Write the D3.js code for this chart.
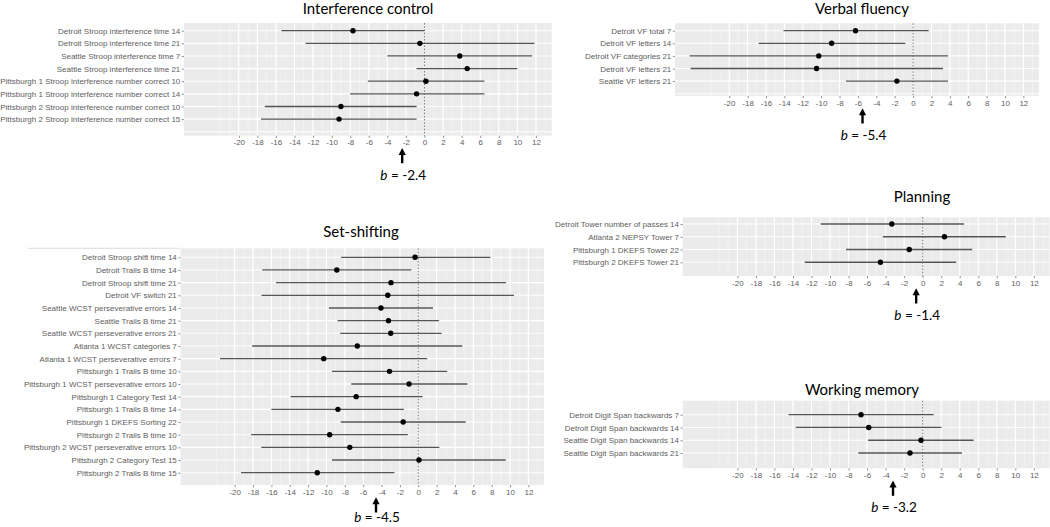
<!DOCTYPE html>
<html><head><meta charset="utf-8">
<script src="https://cdn.jsdelivr.net/npm/d3@7"></script>
<style>
body{margin:0;background:#fff;}
svg{display:block;}
</style></head>
<body><svg id="chart" width="1050" height="527"></svg>
<script>
// ---------- data ----------
const xTicks = [-20,-18,-16,-14,-12,-10,-8,-6,-4,-2,0,2,4,6,8,10,12];
const xTickLabels = ["-20","-18","-16","-14","-12","-10","-8","-6","-4","-2","0","2","4","6","8","10","12"];
const xDomain = [-25.9, 13.7];

const icLabels = ["Detroit Stroop interference time 14","Detroit Stroop interference time 21","Seattle Stroop interference time 7","Seattle Stroop interference time 21","Pittsburgh 1 Stroop interference number correct 10","Pittsburgh 1 Stroop interference number correct 14","Pittsburgh 2 Stroop interference number correct 10","Pittsburgh 2 Stroop interference number correct 15"];
const icEst = [-7.7,-0.5,3.8,4.6,0.15,-0.85,-9.0,-9.2];
const icLo  = [-15.4,-12.8,-4.0,-0.85,-6.1,-8.0,-17.2,-17.6];
const icHi  = [0.0,11.85,11.6,10.0,6.45,6.45,-0.85,-0.85];

const vfLabels = ["Detroit VF total 7","Detroit VF letters 14","Detroit VF categories 21","Detroit VF letters 21","Seattle VF letters 21"];
const vfEst = [-6.26,-8.86,-10.26,-10.5,-1.76];
const vfLo  = [-14.1,-16.8,-24.3,-24.2,-7.3];
const vfHi  = [1.7,-0.84,3.8,3.26,3.8];

const ssLabels = ["Detroit Stroop shift time 14","Detroit Trails B time 14","Detroit Stroop shift time 21","Detroit VF switch 21","Seattle WCST perseverative errors 14","Seattle Trails B time 21","Seattle WCST perseverative errors 21","Atlanta 1 WCST categories 7","Atlanta 1 WCST perseverative errors 7","Pittsburgh 1 Trails B time 10","Pittsburgh 1 WCST perseverative errors 10","Pittsburgh 1 Category Test 14","Pittsburgh 1 Trails B time 14","Pittsburgh 1 DKEFS Sorting 22","Pittsburgh 2 Trails B time 10","Pittsburgh 2 WCST perseverative errors 10","Pittsburgh 2 Category Test 15","Pittsburgh 2 Trails B time 15"];
const ssEst = [-0.35,-8.87,-2.97,-3.32,-4.06,-3.24,-3.0,-6.64,-10.3,-3.13,-1.0,-6.76,-8.75,-1.64,-9.65,-7.46,0.08,-11.0];
const ssLo  = [-8.4,-17.0,-15.5,-17.07,-9.73,-8.79,-8.5,-18.1,-21.6,-9.4,-7.3,-13.9,-16.0,-8.44,-18.2,-17.1,-9.4,-19.3];
const ssHi  = [7.85,-0.74,9.57,10.43,1.6,2.27,2.54,4.8,0.98,3.16,5.35,0.47,-1.56,5.16,-1.13,2.3,9.53,-2.6];

const plLabels = ["Detroit Tower number of passes 14","Atlanta 2 NEPSY Tower 7","Pittsburgh 1 DKEFS Tower 22","Pittsburgh 2 DKEFS Tower 21"];
const plEst = [-3.33,2.35,-1.45,-4.56];
const plLo  = [-11.0,-4.3,-8.28,-12.73];
const plHi  = [4.45,8.97,5.35,3.62];

const wmLabels = ["Detroit Digit Span backwards 7","Detroit Digit Span backwards 14","Seattle Digit Span backwards 14","Seattle Digit Span backwards 21"];
const wmEst = [-6.65,-5.82,-0.18,-1.37];
const wmLo  = [-14.47,-13.7,-5.9,-6.94];
const wmHi  = [1.19,2.03,5.5,4.23];

const titles = ["Interference control","Verbal fluency","Set-shifting","Planning","Working memory"];
const bValues = ["-2.4","-5.4","-4.5","-1.4","-3.2"];
const arrowAt = [-2.4,-5.5,-4.6,-0.7,-3.2];

// ---------- layout ----------
const layouts = [
  {left:184, right:551.7, top:23, first:30.7, step:12.63, bottom:135.7, tx:368, ty:13.5, by:180, extraGrid:true},
  {left:675, right:1039, top:23.3, first:30.7, step:12.6, bottom:96, tx:862, ty:13.5, by:140, extraGrid:true},
  {left:180.5, right:544, top:248.3, first:257.3, step:12.67, bottom:485, tx:361, ty:237, by:522, extraGrid:false},
  {left:682.7, right:1049.6, top:217.3, first:224, step:12.75, bottom:276, tx:922, ty:202, by:320, extraGrid:false},
  {left:682.7, right:1049.6, top:400.7, first:414.7, step:12.77, bottom:468.3, tx:862, ty:395, by:512, extraGrid:false}
];

const series = [
  {labels:icLabels, est:icEst, lo:icLo, hi:icHi},
  {labels:vfLabels, est:vfEst, lo:vfLo, hi:vfHi},
  {labels:ssLabels, est:ssEst, lo:ssLo, hi:ssHi},
  {labels:plLabels, est:plEst, lo:plLo, hi:plHi},
  {labels:wmLabels, est:wmEst, lo:wmLo, hi:wmHi}
];

const svg = d3.select("#chart");
const axisFont = "'Liberation Sans', Arial, sans-serif";
const titleFont = "Lato, 'Open Sans', sans-serif";

// faint leftover rule at top-left of set-shifting panel
svg.append("line").attr("x1",28).attr("x2",180).attr("y1",248.3).attr("y2",248.3)
  .attr("stroke","#e4e4e4").attr("stroke-width",1.2);

series.forEach((s, k) => {
  const L = layouts[k];
  const g = svg.append("g");
  const x = d3.scaleLinear().domain(xDomain).range([L.left, L.right]);
  const n = s.labels.length;
  const y = d3.scalePoint().domain(s.labels).range([L.first, L.first + (n-1)*L.step]);

  g.append("rect").attr("x",L.left).attr("y",L.top)
    .attr("width",L.right-L.left).attr("height",L.bottom-L.top).attr("fill","#ebebeb");

  const minor = d3.range(-22, 14, 1);
  g.selectAll(".minor").data(minor).enter().append("line")
    .attr("x1",d=>x(d)).attr("x2",d=>x(d)).attr("y1",L.top).attr("y2",L.bottom)
    .attr("stroke","#f7f7f7").attr("stroke-width",0.6);
  g.selectAll(".major").data(xTicks).enter().append("line")
    .attr("x1",d=>x(d)).attr("x2",d=>x(d)).attr("y1",L.top).attr("y2",L.bottom)
    .attr("stroke","#ffffff").attr("stroke-width",1.1);
  g.selectAll(".hg").data(s.labels).enter().append("line")
    .attr("x1",L.left).attr("x2",L.right).attr("y1",d=>y(d)).attr("y2",d=>y(d))
    .attr("stroke","#ffffff").attr("stroke-width",1.1);
  if (L.extraGrid) {
    const ye = L.first + n*L.step;
    g.append("line").attr("x1",L.left).attr("x2",L.right).attr("y1",ye).attr("y2",ye)
      .attr("stroke","#ffffff").attr("stroke-width",1.1);
  }

  g.append("line").attr("x1",x(0)).attr("x2",x(0)).attr("y1",L.top).attr("y2",L.bottom)
    .attr("stroke","#6a6a6a").attr("stroke-width",0.9).attr("stroke-dasharray","1.6,1.6");

  g.selectAll(".ci").data(s.labels).enter().append("line")
    .attr("x1",(d,i)=>x(s.lo[i])).attr("x2",(d,i)=>x(s.hi[i]))
    .attr("y1",d=>y(d)).attr("y2",d=>y(d))
    .attr("stroke","#555").attr("stroke-width",1.3);
  g.selectAll(".pt").data(s.labels).enter().append("circle")
    .attr("cx",(d,i)=>x(s.est[i])).attr("cy",d=>y(d)).attr("r",2.7).attr("fill","#000");

  const ya = g.append("g").attr("transform",`translate(${L.left},0)`)
    .call(d3.axisLeft(y).tickSize(2.2).tickPadding(1.5));
  ya.select(".domain").remove();
  ya.selectAll("line").attr("stroke","#777").attr("stroke-width",0.8);
  ya.selectAll("text").attr("font-family",axisFont).attr("font-size",8).attr("fill","#5e5e5e");

  const xa = g.append("g").attr("transform",`translate(0,${L.bottom})`)
    .call(d3.axisBottom(x).tickValues(xTicks).tickFormat((d,i)=>xTickLabels[i]).tickSize(2.2).tickPadding(1.8));
  xa.select(".domain").remove();
  xa.selectAll("line").attr("stroke","#777").attr("stroke-width",0.8);
  xa.selectAll("text").attr("font-family",axisFont).attr("font-size",8).attr("fill","#5e5e5e");

  svg.append("text").attr("x",L.tx).attr("y",L.ty).attr("text-anchor","middle")
    .attr("font-family",titleFont).attr("font-size",15).attr("fill","#000").text(titles[k]);

  const ax = x(arrowAt[k]);
  const aTop = L.bottom + 12.3, aBot = L.bottom + 27.5;
  g.append("line").attr("x1",ax).attr("x2",ax).attr("y1",aTop+5).attr("y2",aBot)
    .attr("stroke","#000").attr("stroke-width",2.4);
  g.append("path").attr("d",`M${ax},${aTop} L${ax-3.6},${aTop+7} L${ax+3.6},${aTop+7} Z`).attr("fill","#000");

  const t = svg.append("text").attr("x",ax+1).attr("y",L.by).attr("text-anchor","middle")
    .attr("font-family",titleFont).attr("font-size",13.5).attr("fill","#000");
  t.append("tspan").attr("font-style","italic").text("b");
  t.append("tspan").text(" = " + bValues[k]);
});
</script>
</body></html>
